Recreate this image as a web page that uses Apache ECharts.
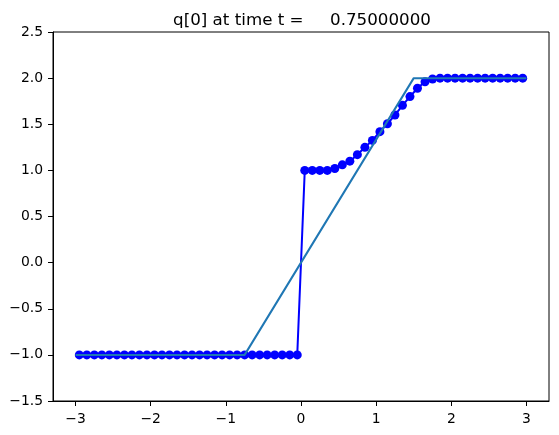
<!DOCTYPE html>
<html>
<head>
<meta charset="utf-8">
<script src="https://cdn.jsdelivr.net/npm/echarts@6/dist/echarts.min.js"></script>
<style>html,body{margin:0;padding:0;background:#fff}#c{width:559px;height:435px}</style>
</head>
<body>
<div id="c"></div>
<script>
var titleText = "q[0] at time t =     0.75000000";
var xCells = [-2.95,-2.85,-2.75,-2.65,-2.55,-2.45,-2.35,-2.25,-2.15,-2.05,
  -1.95,-1.85,-1.75,-1.65,-1.55,-1.45,-1.35,-1.25,-1.15,-1.05,
  -0.95,-0.85,-0.75,-0.65,-0.55,-0.45,-0.35,-0.25,-0.15,-0.05,
  0.05,0.15,0.25,0.35,0.45,0.55,0.65,0.75,0.85,0.95,
  1.05,1.15,1.25,1.35,1.45,1.55,1.65,1.75,1.85,1.95,
  2.05,2.15,2.25,2.35,2.45,2.55,2.65,2.75,2.85,2.95];
var qValues = [-1,-1,-1,-1,-1,-1,-1,-1,-1,-1,
  -1,-1,-1,-1,-1,-1,-1,-1,-1,-1,
  -1,-1,-1,-1,-1,-1,-1,-1,-1,-1,
  1.00,1.00,1.00,1.00,1.02,1.06,1.10,1.17,1.25,1.325,
  1.42,1.505,1.60,1.705,1.80,1.89,1.96,1.99,2.0,2.0,
  2.0,2.0,2.0,2.0,2.0,2.0,2.0,2.0,2.0,2.0];
var exactX = [-3, -0.75, 1.5, 3];
var exactQ = [-1, -1, 2, 2];
var xTicks = [-3,-2,-1,0,1,2,3];
var yTicks = [-1.5,-1.0,-0.5,0.0,0.5,1.0,1.5,2.0,2.5];

function pairs(xs, ys){ return xs.map(function(x,i){ return [x, ys[i]]; }); }
function fmt(v, d){ return v.toFixed(d).replace('-', '\u2212'); }

var chart = echarts.init(document.getElementById('c'), null, {renderer:'canvas'});
var font = 'DejaVu Sans';
chart.setOption({
  animation: false,
  backgroundColor: '#fff',
  title: {
    text: titleText, left: 297, textAlign: 'center', top: 7,
    textStyle: {fontFamily: font, fontSize: 16.7, fontWeight: 'normal', color: '#000'}
  },
  grid: {left: 53, top: 32, width: 496, height: 369, show: true, borderColor: '#000', borderWidth: 1, backgroundColor: 'transparent'},
  xAxis: {
    type: 'value', min: -3.3, max: 3.3,
    axisLine: {show: true, onZero: false, lineStyle: {color: '#000', width: 1}},
    axisTick: {show: true, inside: false, length: 5, customValues: xTicks, lineStyle: {color: '#000'}},
    axisLabel: {customValues: xTicks, margin: 11, fontFamily: font, fontSize: 13.9, color: '#000',
      formatter: function(v){ return fmt(v, 0); }},
    splitLine: {show: false}
  },
  yAxis: {
    type: 'value', min: -1.5, max: 2.5, interval: 0.5,
    axisLine: {show: true, onZero: false, lineStyle: {color: '#000', width: 1}},
    axisTick: {show: true, inside: false, length: 5, lineStyle: {color: '#000'}},
    axisLabel: {margin: 10, fontFamily: font, fontSize: 13.9, color: '#000',
      formatter: function(v){ return fmt(v, 1); }},
    splitLine: {show: false}
  },
  series: [
    {
      type: 'line', data: pairs(xCells, qValues),
      symbol: 'circle', symbolSize: 9, showSymbol: true,
      lineStyle: {color: '#0000ff', width: 2},
      itemStyle: {color: '#0000ff'},
      z: 2
    },
    {
      type: 'line', data: pairs(exactX, exactQ),
      symbol: 'none',
      lineStyle: {color: '#1f77b4', width: 2},
      z: 3
    }
  ]
});
</script>
</body>
</html>
